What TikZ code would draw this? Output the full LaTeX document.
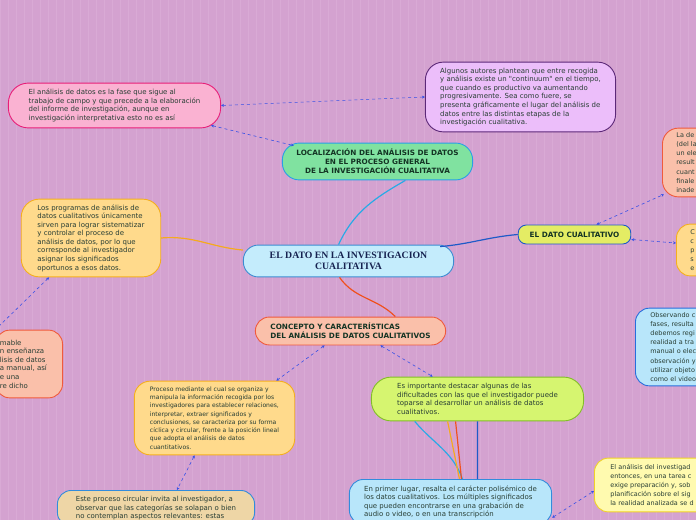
\documentclass[tikz,border=0pt]{standalone}
\usepackage{fontspec}
\usetikzlibrary{arrows.meta}

\newfontfamily\cajafont{DejaVu Sans}
\newfontfamily\raizfont{Liberation Serif}

\definecolor{fondo}{RGB}{212,162,208}
\definecolor{rejilla}{RGB}{217,170,213}
\definecolor{textoc}{RGB}{40,62,52}
\definecolor{titc}{RGB}{20,52,36}
\definecolor{raizc}{RGB}{22,34,80}
\definecolor{flecha}{RGB}{55,80,230}
\definecolor{rosaf}{RGB}{250,178,210}   \definecolor{rosab}{RGB}{232,30,120}
\definecolor{lilaf}{RGB}{236,190,250}   \definecolor{lilab}{RGB}{92,40,120}
\definecolor{verdef}{RGB}{128,226,160}  \definecolor{verdeb}{RGB}{40,160,230}
\definecolor{salmf}{RGB}{250,192,170}   \definecolor{salmb}{RGB}{240,90,60}
\definecolor{amaf}{RGB}{228,236,100}    \definecolor{amab}{RGB}{30,90,200}
\definecolor{naranf}{RGB}{255,218,140}  \definecolor{naranb}{RGB}{245,175,30}
\definecolor{raizf}{RGB}{196,236,252}   \definecolor{raizb}{RGB}{60,140,210}
\definecolor{celef}{RGB}{184,230,250}   \definecolor{celeb}{RGB}{40,110,220}
\definecolor{limaf}{RGB}{214,245,112}   \definecolor{limab}{RGB}{130,190,40}
\definecolor{beigef}{RGB}{238,214,166}  \definecolor{beigeb}{RGB}{50,140,220}
\definecolor{palef}{RGB}{255,250,175}   \definecolor{paleb}{RGB}{240,210,40}
\definecolor{cian}{RGB}{40,170,230}
\definecolor{azul}{RGB}{30,90,200}
\definecolor{naranja}{RGB}{245,170,30}
\definecolor{rojo}{RGB}{240,80,30}

\tikzset{
  caja/.style={draw, line width=0.9pt, rounded corners=13pt, align=left,
    text=textoc, font=\cajafont\fontsize{7}{8.6}\selectfont},
  chica/.style={caja, font=\cajafont\fontsize{6.1}{8.3}\selectfont},
  medio/.style={caja, font=\cajafont\fontsize{6.5}{9.2}\selectfont},
  titulo/.style={caja, rounded corners=10pt, text=titc,
    font=\cajafont\bfseries\fontsize{7.3}{9}\selectfont},
  enlace/.style={draw=flecha, dashed, line width=0.6pt,
    {Stealth[length=3pt,width=3pt]}-{Stealth[length=3pt,width=3pt]}},
  rama/.style={line width=1.2pt},
}

\begin{document}
\begin{tikzpicture}[x=1bp, y=-1bp]
  \useasboundingbox (0,0) rectangle (696,520);
  \fill[fondo] (0,0) rectangle (696,520);
  \clip (0,0) rectangle (696,520);
  \draw[rejilla, line width=0.3pt, step=8] (0,0) grid (696,520);

  % centro
  \node[caja, fill=raizf, draw=raizb, align=center, rounded corners=15pt,
        minimum width=211, minimum height=32, text=raizc,
        font=\raizfont\bfseries\fontsize{9.8}{11}\selectfont]
    (raiz) at (348.5,261) {EL DATO EN LA INVESTIGACION\\CUALITATIVA};

  % arriba
  \node[titulo, fill=verdef, draw=verdeb, align=center, rounded corners=17pt,
        minimum width=191, minimum height=37]
    (localiza) at (377.5,161.5) {LOCALIZACIÓN DEL ANÁLISIS DE DATOS\\EN EL PROCESO GENERAL\\DE LA INVESTIGACIÓN CUALITATIVA};
  \node[caja, fill=rosaf, draw=rosab, rounded corners=20pt,
        minimum width=213, minimum height=45]
    (fase) at (114.5,105.5) {El análisis de datos es la fase que sigue al\\
      trabajo de campo y que precede a la elaboración\\
      del informe de investigación, aunque en\\
      investigación interpretativa esto no es así};
  \node[caja, fill=lilaf, draw=lilab, rounded corners=18pt,
        minimum width=191, minimum height=70]
    (continuum) at (520.5,97) {Algunos autores plantean que entre recogida\\
      y análisis existe un "continuum" en el tiempo,\\
      que cuando es productivo va aumentando\\
      progresivamente. Sea como fuere, se\\
      presenta gráficamente el lugar del análisis de\\
      datos entre las distintas etapas de la\\
      investigación cualitativa.};

  % derecha
  \node[titulo, fill=amaf, draw=amab, align=center, rounded corners=8pt,
        minimum width=113, minimum height=19]
    (dato) at (574.5,234.5) {EL DATO CUALITATIVO};
  \node[medio, fill=salmf, draw=salmb, anchor=west, inner xsep=14,
        text width=80, minimum height=69, rounded corners=16pt]
    (defin) at (662,162.5) {La de\\(del la\\un ele\\result\\cuant\\finale\\inade};
  \node[medio, fill=naranf, draw=naranb, anchor=west, inner xsep=14,
        text width=80, minimum height=52, rounded corners=14pt]
    (caract) at (676,250) {C\\c\\p\\s\\e};
  \node[medio, fill=celef, draw=celeb, anchor=west, inner xsep=15,
        text width=80, minimum height=78, rounded corners=14pt]
    (observa) at (635,347) {Observando c\\fases, resulta\\debemos regi\\realidad a tra\\manual o elec\\observación y\\utilizar objeto\\como el video};

  % izquierda
  \node[caja, fill=naranf, draw=naranb, rounded corners=18pt,
        minimum width=140, minimum height=78]
    (programas) at (91,238) {Los programas de análisis de\\
      datos cualitativos únicamente\\
      sirven para lograr sistematizar\\
      y controlar el proceso de\\
      análisis de datos, por lo que\\
      corresponde al investigador\\
      asignar los significados\\
      oportunos a esos datos.};
  \node[caja, fill=salmf, draw=salmb, anchor=east, inner xsep=4,
        text width=59, minimum height=68, rounded corners=14pt]
    (manual) at (63,364) {mable\\n enseñanza\\lisis de datos\\a manual, así\\e una\\re dicho};

  % abajo
  \node[titulo, fill=salmf, draw=salmb, rounded corners=14pt,
        minimum width=191, minimum height=28]
    (concepto) at (350.5,331) {CONCEPTO Y CARACTERÍSTICAS\\DEL ANÁLISIS DE DATOS CUALITATIVOS};
  \node[chica, fill=naranf, draw=naranb, rounded corners=16pt,
        minimum width=161, minimum height=74]
    (proceso) at (214.5,418) {Proceso mediante el cual se organiza y\\
      manipula la información recogida por los\\
      investigadores para establecer relaciones,\\
      interpretar, extraer significados y\\
      conclusiones, se caracteriza por su forma\\
      cíclica y circular, frente a la posición lineal\\
      que adopta el análisis de datos\\
      cuantitativos.};
  \node[caja, fill=limaf, draw=limab, rounded corners=20pt,
        minimum width=213, minimum height=44]
    (dificultad) at (477.5,399) {Es importante destacar algunas de las\\
      dificultades con las que el investigador puede\\
      toparse al desarrollar un análisis de datos\\
      cualitativos.};
  \node[caja, fill=beigef, draw=beigeb, anchor=north, inner ysep=6,
        minimum width=198, rounded corners=14pt]
    (circular) at (156,490) {Este proceso circular invita al investigador, a\\
      observar que las categorías se solapan o bien\\
      no contemplan aspectos relevantes: estas};
  \node[caja, fill=celef, draw=beigeb, anchor=north, inner ysep=6,
        minimum width=203, rounded corners=14pt]
    (polisemia) at (450.5,479) {En primer lugar, resalta el carácter polisémico de\\
      los datos cualitativos. Los múltiples significados\\
      que pueden encontrarse en una grabación de\\
      audio o video, o en una transcripción};
  \node[medio, fill=palef, draw=paleb, anchor=west, inner xsep=16,
        text width=90, minimum height=54, rounded corners=14pt]
    (tarea) at (594,485) {El análisis del investigad\\entonces, en una tarea c\\exige preparación y, sob\\planificación sobre el sig\\la realidad analizada se d};

  % ramas del centro
  \draw[rama, cian] ([xshift=-10]raiz.north) to[out=65, in=-150] ([xshift=28]localiza.south);
  \draw[rama, azul] ([xshift=-14,yshift=-2]raiz.north east) to[out=5, in=185] (dato.west);
  \draw[rama, naranja] ([yshift=11]raiz.west) to[out=175, in=5] (programas.east);
  \draw[rama, rojo] ([xshift=-9]raiz.south) to[out=-55, in=135] ([xshift=45]concepto.north);

  % lineas hacia abajo
  \draw[rama, cian] ([xshift=-63]dificultad.south) to[out=-50, in=110] ([xshift=12]polisemia.north);
  \draw[rama, naranja] ([xshift=-30]dificultad.south) -- ([xshift=9]polisemia.north);
  \draw[rama, rojo] ([xshift=-22]dificultad.south) -- ([xshift=11]polisemia.north);
  \draw[rama, azul] (dificultad.south) -- ([xshift=27]polisemia.north);

  % enlaces punteados
  \draw[enlace] (fase.east) -- (continuum.west);
  \draw[enlace] ([xshift=-10,yshift=3]fase.south east) -- ([xshift=12,yshift=-3]localiza.north west);
  \draw[enlace] ([xshift=22]dato.north) -- ([xshift=2,yshift=3]defin.south west);
  \draw[enlace] ([yshift=-5]dato.east) -- ([yshift=7]caract.west);
  \draw[enlace] ([xshift=-42]programas.south) -- (manual.north west);
  \draw[enlace] ([xshift=-26]concepto.south) -- ([xshift=62]proceso.north);
  \draw[enlace] ([xshift=30]concepto.south) -- ([xshift=-45]dificultad.north);
  \draw[enlace] ([xshift=-20]proceso.south) -- ([xshift=21]circular.north);
  \draw[enlace] ([yshift=-16]polisemia.east) -- ([yshift=-6]tarea.west);
\end{tikzpicture}
\end{document}
